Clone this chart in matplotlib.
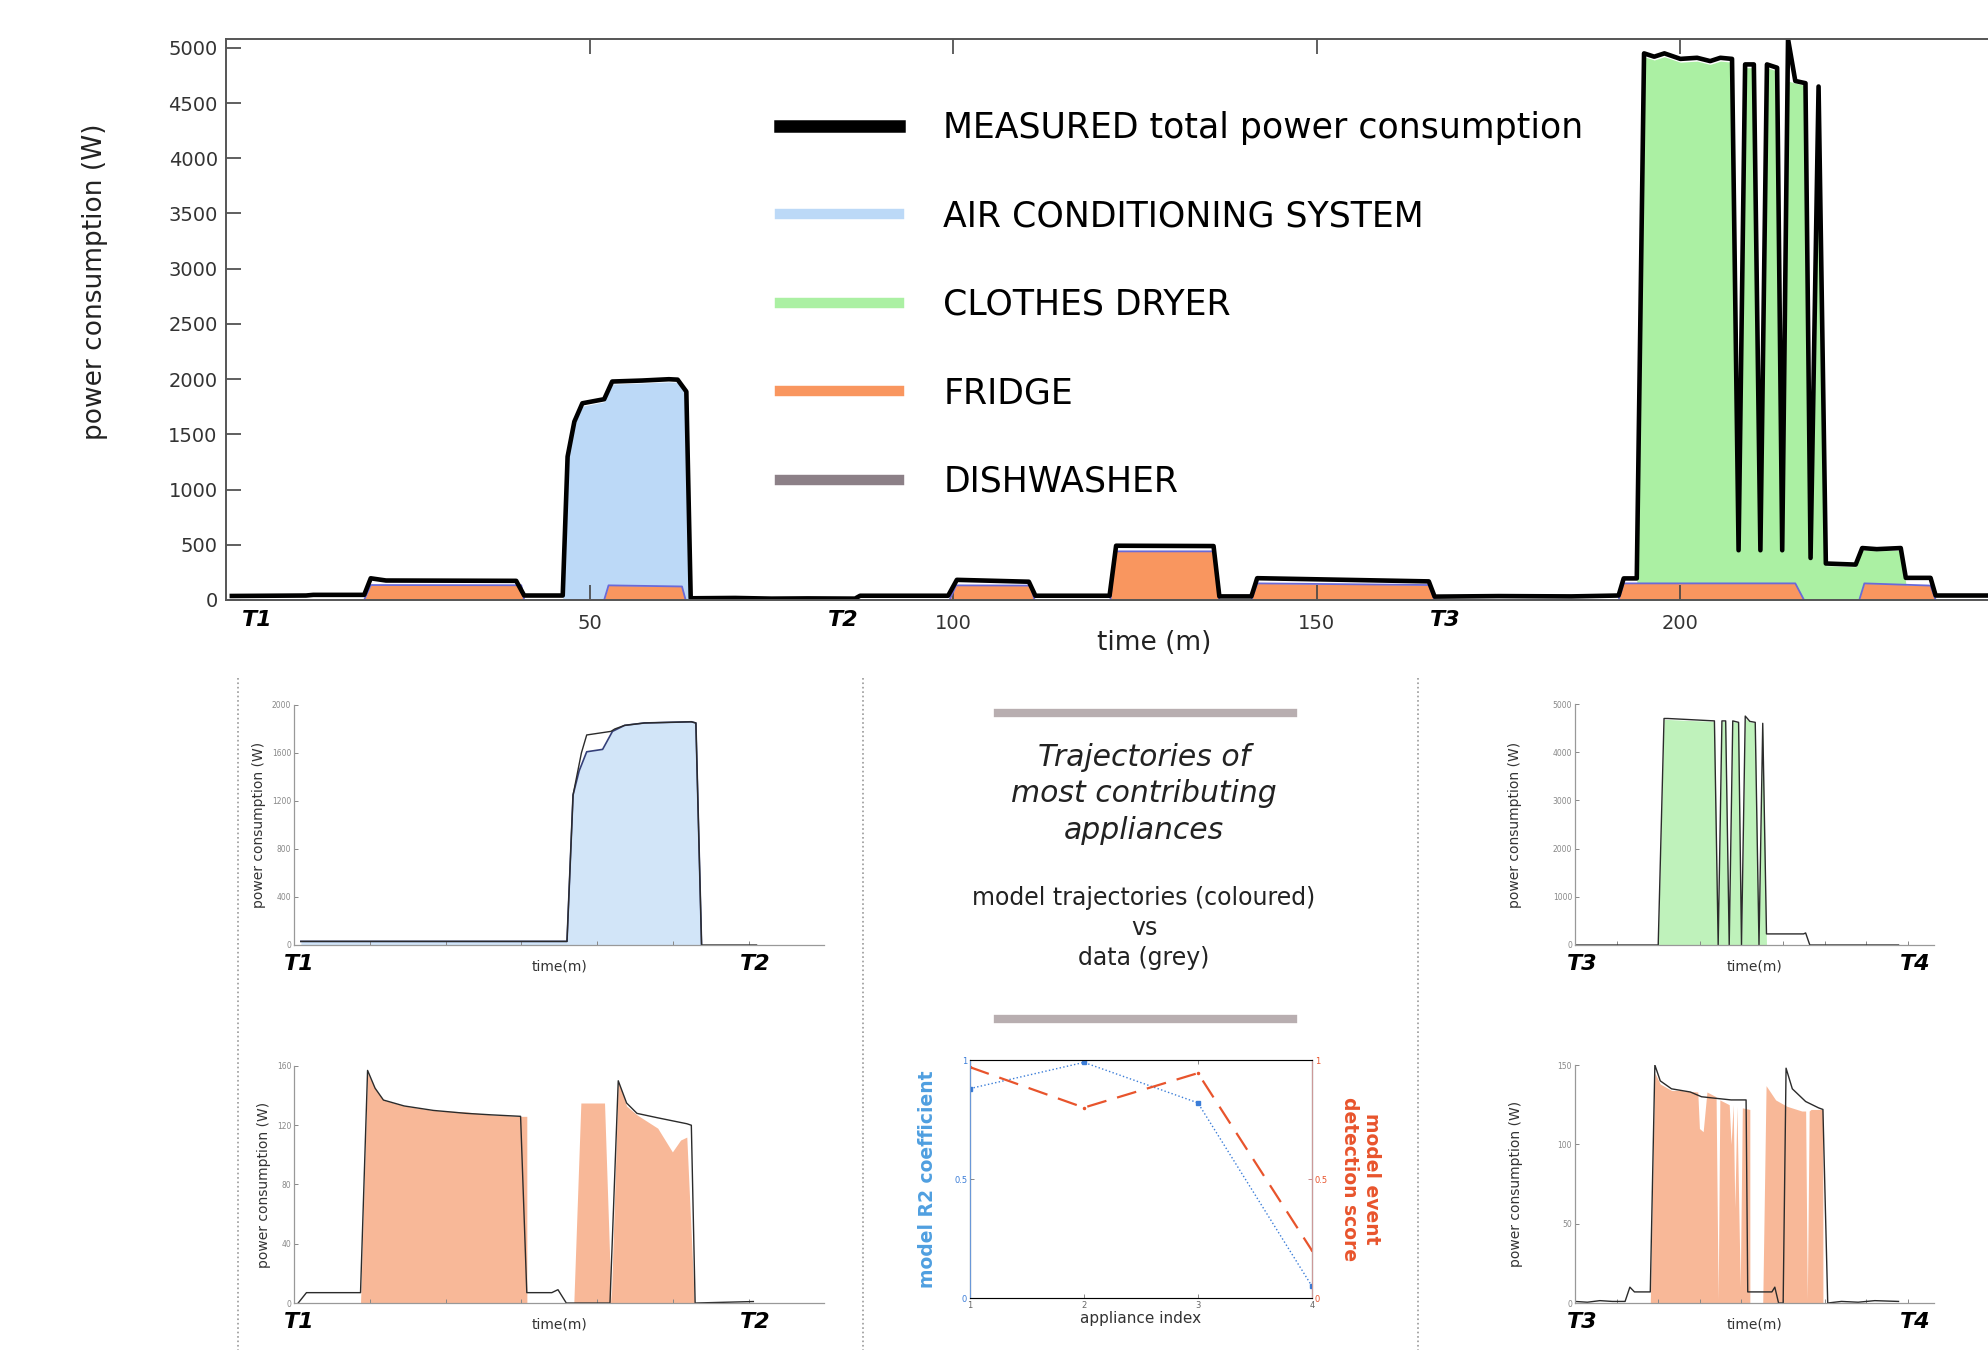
import matplotlib.pyplot as plt
from matplotlib.lines import Line2D
import matplotlib.transforms as mtransforms

# ---------------- data ----------------
# main chart: measured total power (W) vs time (min)
meas_t = [0.8, 11, 12, 19.0, 19.9, 22, 39.9, 41.0, 46.3, 46.97, 47.9, 49.0, 52.0, 53.1, 57.2,
          60.9, 62.1, 63.3, 63.9, 70, 75, 80, 86.5, 87.2, 99.3, 100.5, 110.4, 111.3, 121.5,
          122.4, 135.8, 136.6, 141.0, 141.8, 165.4, 166.2, 175, 185, 191.5, 192.2, 194.0,
          195.0, 196.4, 197.8, 200.0, 202.3, 204.1, 205.5, 207.1, 208.0, 208.9, 210.1, 211.0,
          211.9, 213.3, 214.0, 214.8, 215.8, 217.2, 217.9, 219.0, 220.0, 224.1, 225.0, 227.0,
          230.3, 231.0, 234.4, 235.1, 242.3]
meas_p = [36, 40, 46, 46, 196, 176, 173, 40, 40, 1298, 1615, 1781, 1818, 1978, 1987,
          1999, 1995, 1887, 15, 18, 12, 14, 12, 38, 38, 182, 165, 38, 38,
          491, 488, 32, 32, 197, 168, 30, 35, 32, 40, 195, 195,
          4950, 4920, 4950, 4900, 4910, 4880, 4910, 4900, 450, 4850, 4850, 450,
          4850, 4820, 450, 5080, 4700, 4680, 380, 4650, 330, 320, 470, 460,
          470, 200, 200, 40, 40]

# upper edge of each stacked band (W)
fridge_t = [0, 19.0, 19.9, 40.6, 41.0, 52.0, 52.6, 62.7, 63.2, 99.5, 100.4, 110.6, 111.2,
            121.6, 122.3, 135.8, 136.6, 141.0, 141.8, 165.4, 166.2, 191.5, 192.2, 215.8,
            217.0, 224.6, 225.3, 234.4, 235.1, 242.3]
fridge_top = [0, 0, 135, 133, 0, 0, 132, 122, 0, 0, 132, 130, 0,
              0, 440, 440, 0, 0, 150, 135, 0, 0, 150, 150,
              0, 0, 150, 130, 0, 0]

ac_t = [46.3, 46.97, 47.9, 49.0, 52.0, 53.1, 57.2, 60.9, 62.1, 63.3, 63.9]
ac_top = [0, 1270, 1590, 1755, 1795, 1955, 1965, 1975, 1970, 1865, 0]

dryer_t = [194.0, 195.0, 196.4, 197.8, 200.0, 202.3, 204.1, 205.5, 207.1, 208.0, 208.9, 210.1,
           211.0, 211.9, 213.3, 214.0, 214.8, 215.8, 217.2, 217.9, 219.0, 220.0, 224.1,
           225.0, 227.0, 230.3, 231.0]
dryer_top = [150, 4920, 4890, 4920, 4870, 4880, 4850, 4880, 4870, 430, 4820, 4820,
             430, 4820, 4790, 430, 4700, 4680, 4660, 360, 4620, 310, 300,
             450, 445, 450, 150]

main_xticks = [50, 100, 150, 200]
main_yticks = [0, 500, 1000, 1500, 2000, 2500, 3000, 3500, 4000, 4500, 5000]
period_labels = ['T1', 'T2', 'T3']
period_pos = [4.3, 84.9, 167.7]

legend_labels = ['MEASURED total power consumption', 'AIR CONDITIONING SYSTEM',
                 'CLOTHES DRYER', 'FRIDGE', 'DISHWASHER']

# sub panel: air conditioning, T1-T2
acs_t = [0.9, 36.0, 36.8, 37.9, 38.6, 41.8, 42.3, 43.6, 46.2, 52.4, 53.0, 53.75, 61.0]
acs_data = [30, 30, 1250, 1600, 1750, 1780, 1800, 1830, 1850, 1860, 1850, 0, 0]
acs_mt = [0.9, 36.0, 36.8, 37.6, 38.6, 40.7, 42.0, 43.6, 46.2, 52.4, 53.0, 53.75]
acs_model = [30, 30, 1250, 1450, 1610, 1630, 1780, 1830, 1850, 1860, 1850, 0]

# sub panel: fridge, T1-T2
frl_t = [0.55, 1.64, 8.77, 9.70, 10.69, 11.79, 14.53, 18.37, 22.75, 26.04, 29.88, 30.70,
         34.0, 34.81, 35.91, 41.67, 42.76, 43.86, 45.23, 47.97, 51.81, 52.4, 52.9, 60.58]
frl_data = [0, 7, 7, 157, 145, 137, 133, 130, 128, 127, 126, 7,
            7, 9, 0, 0, 150, 135, 128, 125, 121, 120, 0, 1]
frl_mt = [8.77, 9.70, 10.69, 11.79, 14.53, 18.37, 22.75, 26.04, 29.88, 30.70, 30.71,
          36.9, 37.83, 40.95, 41.83, 42.76, 43.86, 45.23, 47.97, 49.9, 50.98, 51.8, 52.8]
frl_model = [0, 155, 145, 137, 133, 130, 129, 127, 126, 126, 0,
             0, 135, 135, 0, 150, 133, 127, 118, 102, 110, 112, 0]

# sub panel: clothes dryer, T3-T4
dry_t = [0, 20.0, 21.4, 22.3, 26.8, 33.5, 34.4, 35.3, 36.2, 37.05, 37.9, 39.3, 40.0, 40.9,
         42.0, 43.3, 44.2, 45.1, 46.0, 54.9, 55.4, 56.4, 77.7]
dry_data = [0, 0, 4700, 4700, 4680, 4650, 0, 4650, 4650, 0, 4650, 4620, 0, 4750,
            4640, 4620, 0, 4600, 230, 230, 250, 0, 0]
dry_mt = [20.0, 21.4, 22.3, 26.8, 33.5, 34.4, 35.3, 36.2, 37.05, 37.9, 39.3, 40.0, 40.9,
          42.0, 43.3, 44.2, 45.1, 46.0]
dry_model = [0, 4680, 4680, 4660, 4640, 0, 4640, 4640, 0, 4640, 4610, 0, 4700,
             4630, 4610, 0, 4590, 0]

# sub panel: fridge, T3-T4
frr_t = [0, 3, 6, 9, 12.05, 13.2, 14.3, 18.1, 19.2, 20.5, 23.2, 27.7, 30.4, 33.9, 37.5,
         41.1, 41.5, 47.3, 48.0, 48.9, 50.0, 50.7, 52.2, 55.4, 58.5, 59.55, 60.7, 64, 68,
         72, 77.7]
frr_data = [1, 0.5, 1.5, 1, 1, 10, 7, 7, 150, 140, 135, 133, 130, 129, 128,
            128, 7, 7, 10, 0, 0, 148, 135, 127, 123, 122, 0, 1, 0.5, 1.5, 1]
frr_mt = [18.1, 19.2, 20.5, 23.2, 25.0, 29.5, 29.9, 30.8, 31.7, 33.9, 34.4, 34.8, 37.05,
          37.5, 38.0, 38.4, 38.9, 39.7, 40.2, 42.0, 42.01, 45.1, 45.9, 48.2, 50.9, 54.5,
          55.4, 55.8, 56.25, 56.7, 59.5, 59.55]
frr_model = [0, 145, 138, 134, 134, 133, 110, 108, 133, 130, 2, 128, 125,
             100, 125, 60, 124, 10, 123, 122, 0, 0, 137, 128, 124, 121,
             121, 2, 121, 122, 122, 0]

# centre: model scores per appliance
appliance_idx = [1, 2, 3, 4]
r2_score = [0.88, 0.99, 0.82, 0.05]
event_score = [0.97, 0.80, 0.945, 0.20]

# ---------------- colours ----------------
c_ac, c_dry, c_fr, c_dw = '#bcd9f7', '#abf0a3', '#f9965f', '#8c8087'
c_edge = '#6a6ad8'

fig = plt.figure(figsize=(19.88, 13.5), dpi=100)

# ---------------- main chart ----------------
ax = fig.add_axes([0.1137, 0.5556, 0.8863, 0.4155])
ax.fill_between(dryer_t, 0, dryer_top, color=c_dry, lw=0)
ax.fill_between(ac_t, 0, ac_top, color=c_ac, lw=0)
ax.fill_between(fridge_t, 0, fridge_top, color=c_fr, lw=0)
ax.plot(fridge_t, fridge_top, color=c_edge, lw=1.3)
ax.plot(meas_t, meas_p, color='black', lw=3.3, solid_joinstyle='round')

ax.set_xlim(0, 242.3)
ax.set_ylim(0, 5080)
ax.set_xticks(main_xticks)
ax.set_yticks(main_yticks)
ax.tick_params(direction='in', length=11, width=1.2, color='#444', labelsize=14,
               labelcolor='#333', top=True, pad=6)
ax.tick_params(axis='x', pad=10)
ax.spines['right'].set_visible(False)
for s in ['left', 'top', 'bottom']:
    ax.spines[s].set_color('#555')
    ax.spines[s].set_linewidth(1.4)

ax.set_ylabel('power consumption (W)', fontsize=19, color='#222')
ax.yaxis.set_label_coords(-0.067, 0.568)
ax.set_xlabel('time (m)', fontsize=19, color='#222')
ax.xaxis.set_label_coords(0.5267, -0.054)

trans = mtransforms.blended_transform_factory(ax.transData, ax.transAxes)
for lab, pos in zip(period_labels, period_pos):
    ax.text(pos, -0.036, lab, transform=trans, ha='center', va='center',
            fontsize=16, fontweight='bold', fontstyle='italic')

handles = [Line2D([], [], color='black', lw=9),
           Line2D([], [], color=c_ac, lw=7.5),
           Line2D([], [], color=c_dry, lw=7.5),
           Line2D([], [], color=c_fr, lw=7.5),
           Line2D([], [], color=c_dw, lw=7.5)]
ax.legend(handles, legend_labels, loc='upper left', bbox_to_anchor=(0.3145, 0.872),
          frameon=False, fontsize=25, handlelength=3.43, handletextpad=1.27,
          labelspacing=1.57, borderpad=0, borderaxespad=0)


# ---------------- small panels ----------------
def style_sub(a, xmax, ymax, yticks, lpad=4):
    a.set_xlim(0, xmax)
    a.set_ylim(0, ymax)
    a.set_yticks(yticks)
    a.set_xticks(range(0, int(xmax) + 1, 10))
    a.tick_params(direction='in', length=3, width=0.7, color='#888', labelsize=5.5,
                  labelcolor='#888', labelbottom=False, pad=2)
    for s in ['top', 'right']:
        a.spines[s].set_visible(False)
    for s in ['left', 'bottom']:
        a.spines[s].set_color('#999')
        a.spines[s].set_linewidth(0.9)
    a.set_ylabel('power consumption (W)', fontsize=10, color='#333', labelpad=lpad)
    a.text(0.5, -0.06, 'time(m)', transform=a.transAxes, ha='center', va='top',
           fontsize=10, color='#333')


def period_marks(a, left, right, xl, xr):
    a.text(xl, -0.08, left, transform=a.transAxes, ha='center', va='center',
           fontsize=16, fontweight='bold', fontstyle='italic')
    a.text(xr, -0.08, right, transform=a.transAxes, ha='center', va='center',
           fontsize=16, fontweight='bold', fontstyle='italic')


a1 = fig.add_axes([0.1479, 0.3, 0.2666, 0.1778])
a1.fill_between(acs_mt, 0, acs_model, color='#d2e5f8', lw=0)
a1.plot(acs_mt, acs_model, color='#34407a', lw=1.2)
a1.plot(acs_t, acs_data, color='#2b2b2b', lw=1.0)
style_sub(a1, 69.9, 2000, [0, 400, 800, 1200, 1600, 2000])
period_marks(a1, 'T1', 'T2', 0.01, 0.87)

a2 = fig.add_axes([0.1479, 0.0348, 0.2666, 0.1756])
a2.fill_between(frl_mt, 0, frl_model, color='#f8b898', lw=0)
a2.plot(frl_t, frl_data, color='#2b2b2b', lw=1.0)
style_sub(a2, 69.9, 160, [0, 40, 80, 120, 160])
period_marks(a2, 'T1', 'T2', 0.01, 0.87)

a3 = fig.add_axes([0.7922, 0.3, 0.1806, 0.1785])
a3.fill_between(dry_mt, 0, dry_model, color='#bff2bb', lw=0)
a3.plot(dry_t, dry_data, color='#2b2b2b', lw=1.0)
style_sub(a3, 86.2, 5000, [0, 1000, 2000, 3000, 4000, 5000], lpad=22)
period_marks(a3, 'T3', 'T4', 0.02, 0.947)

a4 = fig.add_axes([0.7922, 0.0348, 0.1806, 0.1763])
a4.fill_between(frr_mt, 0, frr_model, color='#f8b898', lw=0)
a4.plot(frr_t, frr_data, color='#2b2b2b', lw=1.0)
style_sub(a4, 86.2, 150, [0, 50, 100, 150], lpad=25)
period_marks(a4, 'T3', 'T4', 0.02, 0.947)

# ---------------- centre panel ----------------
c_blue, c_red = '#4f9fe0', '#e8542c'
ac = fig.add_axes([0.4879, 0.0385, 0.172, 0.1763])
ac.plot(appliance_idx, r2_score, color='#3b7dd8', lw=1.0, ls=':', marker='s', ms=2.5)
ac2 = ac.twinx()
ac2.plot(appliance_idx, event_score, color=c_red, lw=1.6, dashes=(9, 5), marker='.',
         ms=3)
for a in (ac, ac2):
    a.set_xlim(1, 4)
    a.set_ylim(0, 1)
    a.set_yticks([0, 0.5, 1])
    a.set_yticklabels(['0', '0.5', '1'])
ac.set_xticks(appliance_idx)
ac.tick_params(direction='in', length=3, width=0.7, labelsize=6, color='#888',
               labelcolor='#666', top=True, pad=2)
ac.tick_params(axis='y', labelcolor='#3b7dd8')
ac2.tick_params(direction='in', length=3, width=0.7, labelsize=6, color='#c88',
                labelcolor=c_red, pad=2)
for s in ['top', 'bottom']:
    ac.spines[s].set_color('#999')
ac2.spines['left'].set_color('#6a98d8')
ac2.spines['right'].set_color('#c99')
ac.set_xlabel('appliance index', fontsize=11, color='#333', labelpad=1)
ac.set_ylabel('model R2 coefficient', fontsize=13.5, fontweight='bold', color=c_blue,
              labelpad=12)
ac2.set_ylabel('model event\ndetection score', fontsize=13.5, fontweight='bold',
               color=c_red, rotation=270, labelpad=38)

fig.text(0.5755, 0.4119, 'Trajectories of\nmost contributing\nappliances', ha='center',
         va='center', fontsize=21.5, fontstyle='italic', color='#222', linespacing=1.32)
fig.text(0.5755, 0.3126, 'model trajectories (coloured)\nvs\ndata (grey)', ha='center',
         va='center', fontsize=17, color='#222', linespacing=1.32)

# decorative bars and panel separators
for yb in (0.4719, 0.2452):
    fig.add_artist(Line2D([0.502, 0.6504], [yb, yb], transform=fig.transFigure,
                          color='#b8aeb0', lw=6))
for xs in (0.1197, 0.4341, 0.7133):
    fig.add_artist(Line2D([xs, xs], [0.4978, 0.0], transform=fig.transFigure,
                          color='#999', lw=1.2, ls=':'))

fig.savefig('out.png', dpi=100)
